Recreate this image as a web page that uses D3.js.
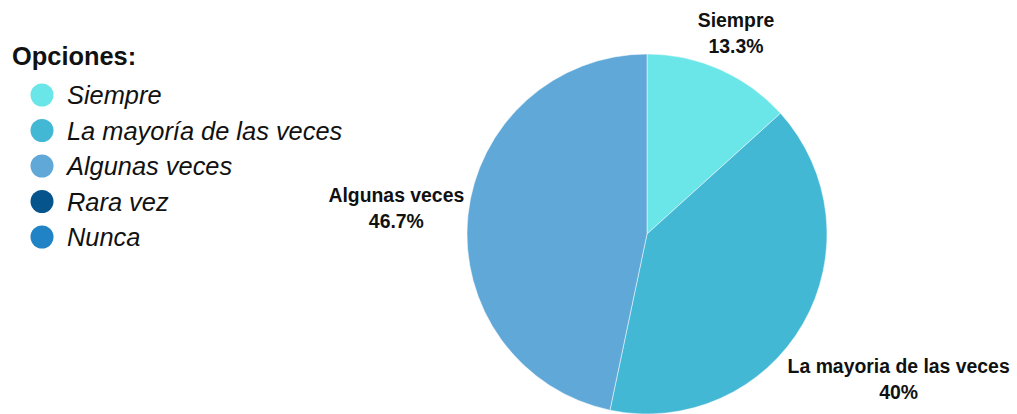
<!DOCTYPE html>
<html><head><meta charset="utf-8">
<script src="https://cdn.jsdelivr.net/npm/d3@7"></script>
<style>body{margin:0;background:#fff;}svg{display:block;font-family:"Liberation Sans",Arial,sans-serif;}</style>
</head><body>
<svg id="c" width="1017" height="414"></svg>
<script>
const categories = ["Siempre","La mayoría de las veces","Algunas veces","Rara vez","Nunca"];
const sliceLabels = ["Siempre","La mayoria de las veces","Algunas veces","Rara vez","Nunca"];
const values = [13.3, 40, 46.7, 0, 0];
const colors = ["#6AE5E8","#42B8D5","#5FA8D8","#05548C","#1F83C6"];
const legendTitle = "Opciones:";

const svg = d3.select("#c");
const cx = 647, cy = 234, r = 180;
const data = categories.map((c,i)=>({cat:c, lab:sliceLabels[i], v:values[i], col:colors[i]}));
const pie = d3.pie().value(d=>d.v).sort(null);
const arcs = pie(data);
const arc = d3.arc().innerRadius(0).outerRadius(r);
const g = svg.append("g").attr("transform",`translate(${cx},${cy})`);
g.selectAll("path").data(arcs.filter(a=>a.data.v>0)).join("path")
  .attr("d",arc).attr("fill",d=>d.data.col).attr("stroke","#fff").attr("stroke-width",0.5);

// labels
arcs.filter(a=>a.data.v>0).forEach(a=>{
  const mid=(a.startAngle+a.endAngle)/2;
  const s=Math.sin(mid), c=Math.cos(mid);
  const t=g.append("text").attr("text-anchor","middle").attr("font-size",19.4).attr("font-weight","bold").attr("fill","#111");
  t.append("tspan").attr("x",0).attr("dy",0).text(a.data.lab);
  t.append("tspan").attr("x",0).attr("dy",26).text(d3.format("~r")(a.data.v)+"%");
  const bb=t.node().getBBox();
  const R=r+2;
  const rad=Math.abs(s)*bb.width/2+Math.abs(c)*bb.height/2;
  const px=(R+rad)*s, py=-(R+rad)*c;
  const ox=px-(bb.x+bb.width/2), oy=py-(bb.y+bb.height/2);
  t.attr("transform",`translate(${ox},${oy})`);
});

// legend
svg.append("text").attr("x",12).attr("y",65).attr("font-size",25.4).attr("font-weight","bold").attr("fill","#111").text(legendTitle);
const y = d3.scalePoint().domain(categories).range([95,237]);
const lg = svg.selectAll("g.l").data(data).join("g").attr("class","l");
lg.append("circle").attr("cx",42).attr("cy",d=>y(d.cat)).attr("r",11.5).attr("fill",d=>d.col);
lg.append("text").attr("x",67).attr("y",d=>y(d.cat)+9).attr("font-size",25.4).attr("font-style","italic").attr("fill","#111").text(d=>d.cat);
</script>
</body></html>
